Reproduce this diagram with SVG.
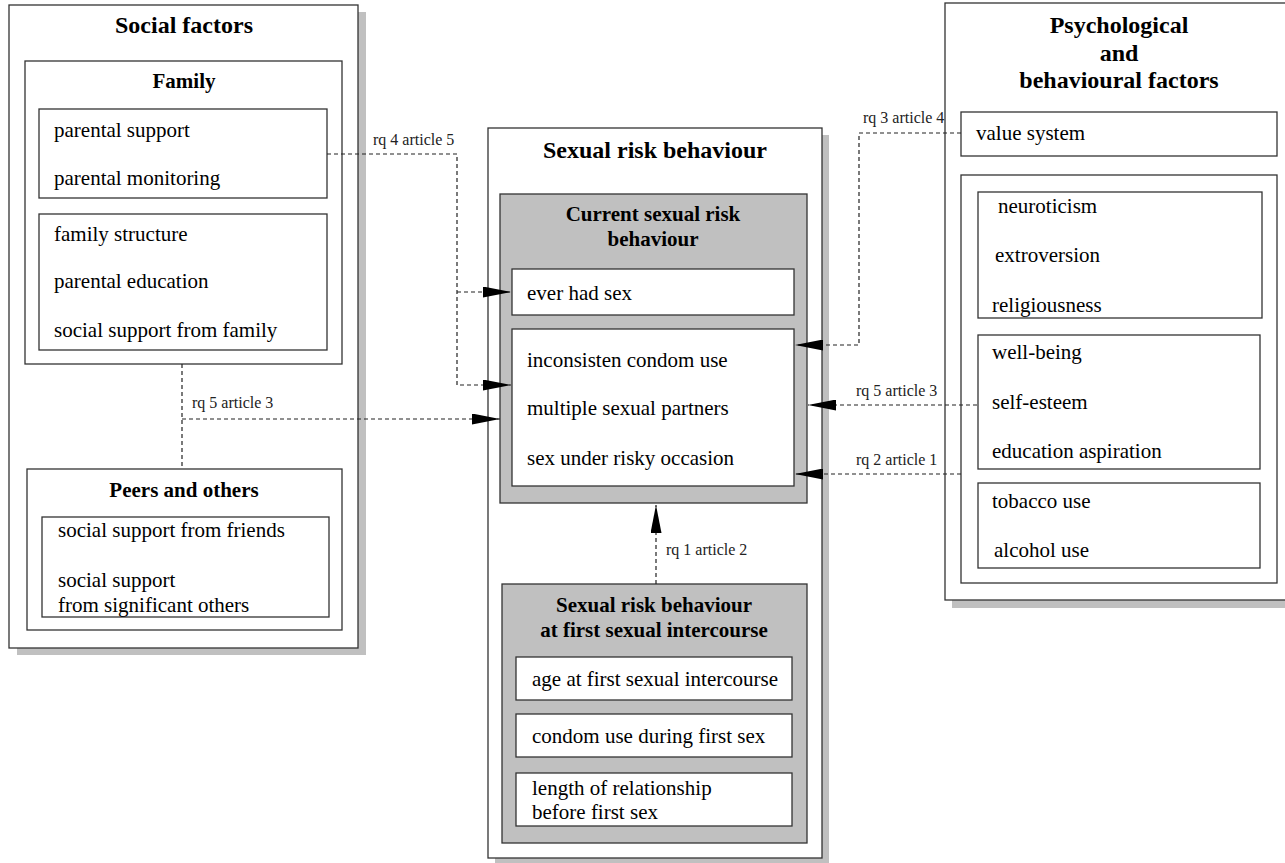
<svg xmlns="http://www.w3.org/2000/svg" width="1285" height="863" viewBox="0 0 1285 863">
<defs>
<style>
.bx{fill:#fff;stroke:#333;stroke-width:1.3}
.gr{fill:#c0c0c0;stroke:#333;stroke-width:1.3}
.sh{fill:#c0c0c0;stroke:none}
.t{font-family:"Liberation Serif","Times New Roman",serif;font-size:21px;fill:#000}
.h{font-family:"Liberation Serif","Times New Roman",serif;font-size:21px;font-weight:bold;fill:#000;text-anchor:middle}
.H{font-family:"Liberation Serif","Times New Roman",serif;font-size:24px;font-weight:bold;fill:#000;text-anchor:middle}
.lb{font-family:"Liberation Serif","Times New Roman",serif;font-size:16px;fill:#222}
.c{fill:none;stroke:#222;stroke-width:1.2;stroke-dasharray:4,3}
</style>
<marker id="ah" markerUnits="userSpaceOnUse" markerWidth="29" markerHeight="11" refX="28" refY="5.5" orient="auto">
<path d="M0,0 L28,5.5 L0,11 z" fill="#000"/>
</marker>
</defs>
<rect width="1285" height="863" fill="#fff"/>

<g id="social-factors">
<rect class="sh" x="17" y="12" width="349" height="643"/>
<rect class="bx" x="9" y="5" width="349" height="643"/>
<text class="H" x="184" y="33">Social factors</text>
<g id="family">
<rect class="bx" x="25" y="61" width="317" height="303"/>
<text class="h" x="184" y="88">Family</text>
<g id="family-parenting">
<rect class="bx" x="39" y="109" width="288" height="89"/>
<text class="t" x="54" y="137">parental support</text>
<text class="t" x="54" y="185">parental monitoring</text>
</g>
<g id="family-background">
<rect class="bx" x="39" y="214" width="288" height="136"/>
<text class="t" x="54" y="241">family structure</text>
<text class="t" x="54" y="288">parental education</text>
<text class="t" x="54" y="337">social support from family</text>
</g>
</g>
<g id="peers">
<rect class="bx" x="27" y="469" width="315" height="161"/>
<text class="h" x="184" y="497">Peers and others</text>
<g id="peers-support">
<rect class="bx" x="42" y="517" width="287" height="100"/>
<text class="t" x="58" y="537">social support from friends</text>
<text class="t" x="58" y="587">social support</text>
<text class="t" x="58" y="612">from significant others</text>
</g>
</g>
</g>

<g id="sexual-risk-behaviour">
<rect class="sh" x="495" y="135" width="334" height="730"/>
<rect class="bx" x="488" y="128" width="334" height="730"/>
<text class="H" x="655" y="158">Sexual risk behaviour</text>
<g id="current">
<rect class="gr" x="500" y="194" width="307" height="309"/>
<text class="h" x="653" y="221">Current sexual risk</text>
<text class="h" x="653" y="246">behaviour</text>
<g id="ever-had-sex">
<rect class="bx" x="512" y="269" width="282" height="46"/>
<text class="t" x="527" y="300">ever had sex</text>
</g>
<g id="current-risks">
<rect class="bx" x="512" y="329" width="282" height="157"/>
<text class="t" x="527" y="367">inconsisten condom use</text>
<text class="t" x="527" y="415">multiple sexual partners</text>
<text class="t" x="527" y="465">sex under risky occasion</text>
</g>
</g>
<g id="first-sex">
<rect class="gr" x="502" y="584" width="305" height="259"/>
<text class="h" x="654" y="612">Sexual risk behaviour</text>
<text class="h" x="654" y="637">at first sexual intercourse</text>
<g id="age-first">
<rect class="bx" x="516" y="657" width="276" height="43"/>
<text class="t" x="532" y="686">age at first sexual intercourse</text>
</g>
<g id="condom-first">
<rect class="bx" x="516" y="714" width="276" height="43"/>
<text class="t" x="532" y="743">condom use during first sex</text>
</g>
<g id="length-relationship">
<rect class="bx" x="516" y="773" width="276" height="53"/>
<text class="t" x="532" y="795">length of relationship</text>
<text class="t" x="532" y="819">before first sex</text>
</g>
</g>
</g>

<g id="psychological-factors">
<rect class="sh" x="952" y="10" width="360" height="598"/>
<rect class="bx" x="945" y="3" width="360" height="597"/>
<text class="H" x="1119" y="33">Psychological</text>
<text class="H" x="1119" y="61">and</text>
<text class="H" x="1119" y="88">behavioural factors</text>
<g id="value-system">
<rect class="bx" x="961" y="112" width="316" height="44"/>
<text class="t" x="976" y="140">value system</text>
</g>
<g id="psych-container">
<rect class="bx" x="961" y="175" width="316" height="408"/>
<g id="personality">
<rect class="bx" x="978" y="192" width="284" height="126"/>
<text class="t" x="998" y="213">neuroticism</text>
<text class="t" x="995" y="262">extroversion</text>
<text class="t" x="992" y="312">religiousness</text>
</g>
<g id="wellbeing">
<rect class="bx" x="978" y="335" width="282" height="134"/>
<text class="t" x="992" y="359">well-being</text>
<text class="t" x="992" y="409">self-esteem</text>
<text class="t" x="992" y="458">education aspiration</text>
</g>
<g id="substance">
<rect class="bx" x="978" y="483" width="282" height="85"/>
<text class="t" x="992" y="508">tobacco use</text>
<text class="t" x="994" y="557">alcohol use</text>
</g>
</g>
</g>

<g id="connectors">
<path class="c" d="M327,154 H457 V385 H511" marker-end="url(#ah)"/>
<path class="c" d="M457,292 H511" marker-end="url(#ah)"/>
<text class="lb" x="373" y="145">rq 4 article 5</text>
<path class="c" d="M182,364 V469"/>
<path class="c" d="M182,419 H500" marker-end="url(#ah)"/>
<text class="lb" x="192" y="408">rq 5 article 3</text>
<path class="c" d="M961,133 H859 V345 H795" marker-end="url(#ah)"/>
<text class="lb" x="863" y="123">rq 3 article 4</text>
<path class="c" d="M977,405 H808" marker-end="url(#ah)"/>
<text class="lb" x="856" y="396">rq 5 article 3</text>
<path class="c" d="M961,474 H795" marker-end="url(#ah)"/>
<text class="lb" x="856" y="465">rq 2 article 1</text>
<path class="c" d="M656,584 V505" marker-end="url(#ah)"/>
<text class="lb" x="666" y="555">rq 1 article 2</text>
</g>
</svg>
